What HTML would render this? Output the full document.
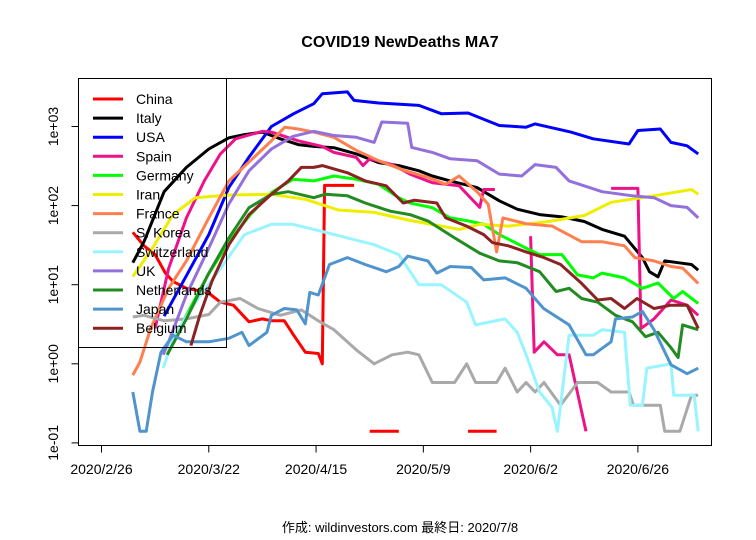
<!DOCTYPE html>
<html><head><meta charset="utf-8"><style>
body{margin:0;background:#fff}
svg{display:block;font-family:"Liberation Sans","Noto Sans CJK JP",sans-serif}
</style></head><body>
<svg id="chart" width="756" height="540" viewBox="0 0 756 540" xmlns="http://www.w3.org/2000/svg">
<rect width="756" height="540" fill="#fff"/>
<text x="400" y="47" text-anchor="middle" font-size="16" font-weight="bold">COVID19 NewDeaths MA7</text>
<text x="400" y="532" text-anchor="middle" font-size="13">作成: wildinvestors.com 最終日: 2020/7/8</text>
<g id="axes"></g>
<g id="series"></g>
<rect x="78.5" y="78.5" width="633" height="367" fill="none" stroke="#000"/>
<g id="legend"></g>
</svg>
<script>
const xTickDays=[0,24,48,72,96,120];
const xTickLabels=["2020/2/26","2020/3/22","2020/4/15","2020/5/9","2020/6/2","2020/6/26"];
const yTickVals=[1000,100,10,1,0.1];
const yTickLabels=["1e+03","1e+02","1e+01","1e+00","1e-01"];
const seriesNames=["China","Italy","USA","Spain","Germany","Iran","France","S. Korea","Switzerland","UK","Netherlands","Japan","Belgium"];
const seriesColors=["#ff0000","#000000","#0000ff","#ee1289","#00ff00","#eeee00","#ff7f50","#a9a9a9","#98f5ff","#9370db","#228b22","#4f94cd","#8b2323"];

const chinaDays=[7,9.5,12,14.3,16,19,23.8,26.6,29.5,33,36,38,40.9,43,45.6,48.5,49.4,49.9,56.5,null,60,66.5,null,82,88.4];
const chinaVals=[46,31,24,14,11,9,8,6,5.5,3.4,3.7,3.5,3.5,2.3,1.4,1.35,1.0,180,180,null,0.14,0.14,null,0.14,0.14];
const italyDays=[7,9.5,14,19,24,28.5,32,36,40,44,47.5,52,57,62,66.5,71,74,78,84,89,93,98,103,108,112,117,121,122.6,124.5,126,129,132,133.5];
const italyVals=[19,35,150,304,520,720,790,850,700,590,560,540,450,350,320,275,237,205,169,115,90,77,72,63,50,41,22,14.6,12.6,20,19,18,15.3];
const usaDays=[14,19,24,28.5,33,38,43,47.5,49.4,55,56.5,62,71,76,82,89,95,97,105,110,118,120,125,127.4,131,133.5];
const usaVals=[4,13,43,170,410,1000,1450,1940,2600,2740,2140,1980,1850,1450,1480,1030,980,1080,850,700,600,890,930,630,570,450];
const spainDays=[12,15,19,23,26.6,30,36,38,44,49.4,52,57,58.5,60,65,69,74,80,84.6,85.5,88,null,96,96.8,99,102,104.6,108.4,null,114,120,120.7,123.6,127.4,131,133.5];
const spainVals=[2.8,16,70,205,450,700,870,850,660,560,470,407,320,390,330,250,195,178,95,160,160,null,41,1.4,1.9,1.3,1.3,0.14,null,165,165,2.8,3.7,6.4,5.5,4.1];
const germanyDays=[14.7,19,23.8,28.5,33.3,38,42.8,47.5,52,57,62,66.5,69,74,78,82,85.5,89,95,98,103,106.5,110,112,117,121,124.5,128,130,133.5];
const germanyVals=[1.3,4.1,13.3,35,77,146,215,205,237,215,186,126,108,94,70,64,58,43,29,24,24,13.3,12.2,14,12.2,9,10.5,6.7,8.2,5.8];
const iranDays=[7,11.4,16,21,28.5,38,45.6,53,61,69,80,84.6,91,100,108,114,123.6,130,132,133.5];
const iranVals=[12.7,29,77,126,136,139,120,88,82,65,50,58,55,63,75,110,133,153,160,139];
const franceDays=[7,8.6,11,15,19,24,28.5,33.3,38,41,44,47.5,52,57,62,68,73,77,80,84,86.5,88.4,89.8,95,100.8,107.4,112,117,119.3,123.6,127.4,130,133.5];
const franceVals=[0.72,1.05,2.8,9,20,70,205,370,660,980,930,850,730,500,370,275,227,186,237,150,104,26,70,59,55,35,35,31,22,20,17,16.2,10.4];
const koreaDays=[7,9.5,14,19,24,26.6,31,35,40,44.7,48.5,52,57,61,65,68.5,71,74,79,81.7,83.7,88.4,90.3,93,95,97,99,102.7,106.5,111,114,118,119,125,126,129.4,132,133.5];
const koreaVals=[3.9,4.1,3.5,3.7,4.2,6,6.7,5,4.1,4.8,3.5,2.7,1.5,1.0,1.3,1.4,1.3,0.58,0.58,1.0,0.58,0.58,0.88,0.44,0.58,0.44,0.58,0.3,0.58,0.58,0.44,0.44,0.3,0.3,0.14,0.14,0.4,0.4];
const swissDays=[13.8,16,21,26.6,32,38,42.8,49.4,55,61,66.5,71,76,81.7,83.7,90.3,93,95,98,100.8,102,104.6,110,112,117,118.3,121,122,127.4,128,132.6,133.5];
const swissVals=[0.88,2.1,6,16,43,58,58,47,39,32,24,10,10,6,3.1,3.7,2.5,1.3,0.44,0.28,0.14,2.3,2.3,2.7,2.5,0.3,0.3,0.88,1.0,0.4,0.4,0.14];
const ukDays=[13.8,15,19,24,28.5,33,38,42.8,47.5,52,57,61,62.7,68.5,69.4,74,78,84,89,94,97,101.7,104.6,112,118.8,123.6,127.4,131,133.5];
const ukVals=[1.3,1.9,7.4,29,105,275,520,750,870,770,730,630,1140,1100,545,470,390,370,250,237,330,304,205,150,133,126,100,95,70];
const nethDays=[14.7,19,23.8,28.5,33,38,41.8,47.5,50,55,59,64.6,69,73,79,84.6,89,93,98,101.7,104.6,107.4,111,115,118.8,121.7,124.5,127.4,129,130,133.5];
const nethVals=[1.3,3.7,13.3,39,94,139,150,126,139,133,108,85,77,64,39,25,20,19,14.6,8.2,9,6.7,6,4.1,3.4,2.2,2.5,1.6,1.2,3.1,2.7];
const japanDays=[7,8.6,10,11.4,13.3,16,19,24,28.5,31.4,33,37,38,40.9,43.7,45.6,46.6,48.5,51,55,59,63.7,66.5,68.5,73,75,78,82.7,85.5,90.3,95,98.9,104.6,108.4,110,114,115,118.8,121,123.6,127.4,131,133.5];
const japanVals=[0.44,0.14,0.14,0.44,1.4,2.3,1.9,1.9,2.1,2.5,1.7,2.5,4.1,5,4.8,3.2,8,7.4,18,22,18,14.6,17,23,20,14,17,16.5,11.5,12.2,9,5,3.1,1.3,1.3,1.9,3.7,3.9,4.6,2.7,0.97,0.75,0.88];
const belgDays=[20,22,24.7,28.5,33,38,41.8,44.7,47.5,49.4,55,59,63.7,67.5,70,75,77,81.7,85.5,87.5,91,95,99,102.7,107.4,111,114,117,119.8,123.6,127.4,131,133.5];
const belgVals=[1.7,4.1,11,32,77,139,205,304,304,320,260,205,178,108,117,108,70,55,43,34,31,26,22,18,10.4,6.4,6.7,5,6.7,5,5.5,5.5,2.8];

const allDays=[chinaDays,italyDays,usaDays,spainDays,germanyDays,iranDays,franceDays,koreaDays,swissDays,ukDays,nethDays,japanDays,belgDays];
const allVals=[chinaVals,italyVals,usaVals,spainVals,germanyVals,iranVals,franceVals,koreaVals,swissVals,ukVals,nethVals,japanVals,belgVals];

const NS="http://www.w3.org/2000/svg";
function xs(d){return 101.5+4.47*d;}
function ys(v){return 126.5+(3-Math.log10(v))*79.1;}
function mk(tag,attrs,parent){const e=document.createElementNS(NS,tag);for(const k in attrs)e.setAttribute(k,attrs[k]);parent.appendChild(e);return e;}

const axes=document.getElementById('axes');
mk('line',{x1:xs(xTickDays[0]),x2:xs(xTickDays[xTickDays.length-1]),y1:445.5,y2:445.5,stroke:'#000'},axes);
xTickDays.forEach((d,i)=>{
  const t=mk('line',{x1:xs(d),x2:xs(d),y1:445.5,y2:452.5,stroke:'#000'},axes);
  
  
  const l=mk('text',{x:xs(d),y:474,'text-anchor':'middle','font-size':14},axes);
  l.textContent=xTickLabels[i];
  
  
});
mk('line',{x1:78.5,x2:78.5,y1:ys(yTickVals[0]),y2:ys(yTickVals[yTickVals.length-1]),stroke:'#000'},axes);
yTickVals.forEach((v,i)=>{
  const y=ys(v);
  const t=mk('line',{x1:71.5,x2:78.5,y1:y,y2:y,stroke:'#000'},axes);
  
  
  const l=mk('text',{x:0,y:0,'text-anchor':'middle','font-size':14,transform:`translate(58,${y}) rotate(-90)`},axes);
  l.textContent=yTickLabels[i];
  
  
});

const sg=document.getElementById('series');
allDays.forEach((days,i)=>{
  const vals=allVals[i];let d='';let pen=false;
  for(let k=0;k<days.length;k++){
    if(days[k]===null||vals[k]===null){pen=false;continue;}
    d+=(pen?'L':'M')+xs(days[k]).toFixed(1)+','+ys(vals[k]).toFixed(1);pen=true;
  }
  const p=mk('path',{d:d,fill:'none',stroke:seriesColors[i],'stroke-width':3,'stroke-linejoin':'round'},sg);
  
  
});

const lg=document.getElementById('legend');
const box=mk('rect',{x:78.5,y:78.5,width:148,height:269,fill:'none',stroke:'#000'},lg);


seriesNames.forEach((n,i)=>{
  const y=99+i*19.1;
  const g=mk('g',{},lg);
  
  
  mk('line',{x1:93,x2:123,y1:y,y2:y,stroke:seriesColors[i],'stroke-width':3},g);
  const t=mk('text',{x:136,y:y+5,'font-size':14},g);
  t.textContent=n;
});
</script>
</body></html>
